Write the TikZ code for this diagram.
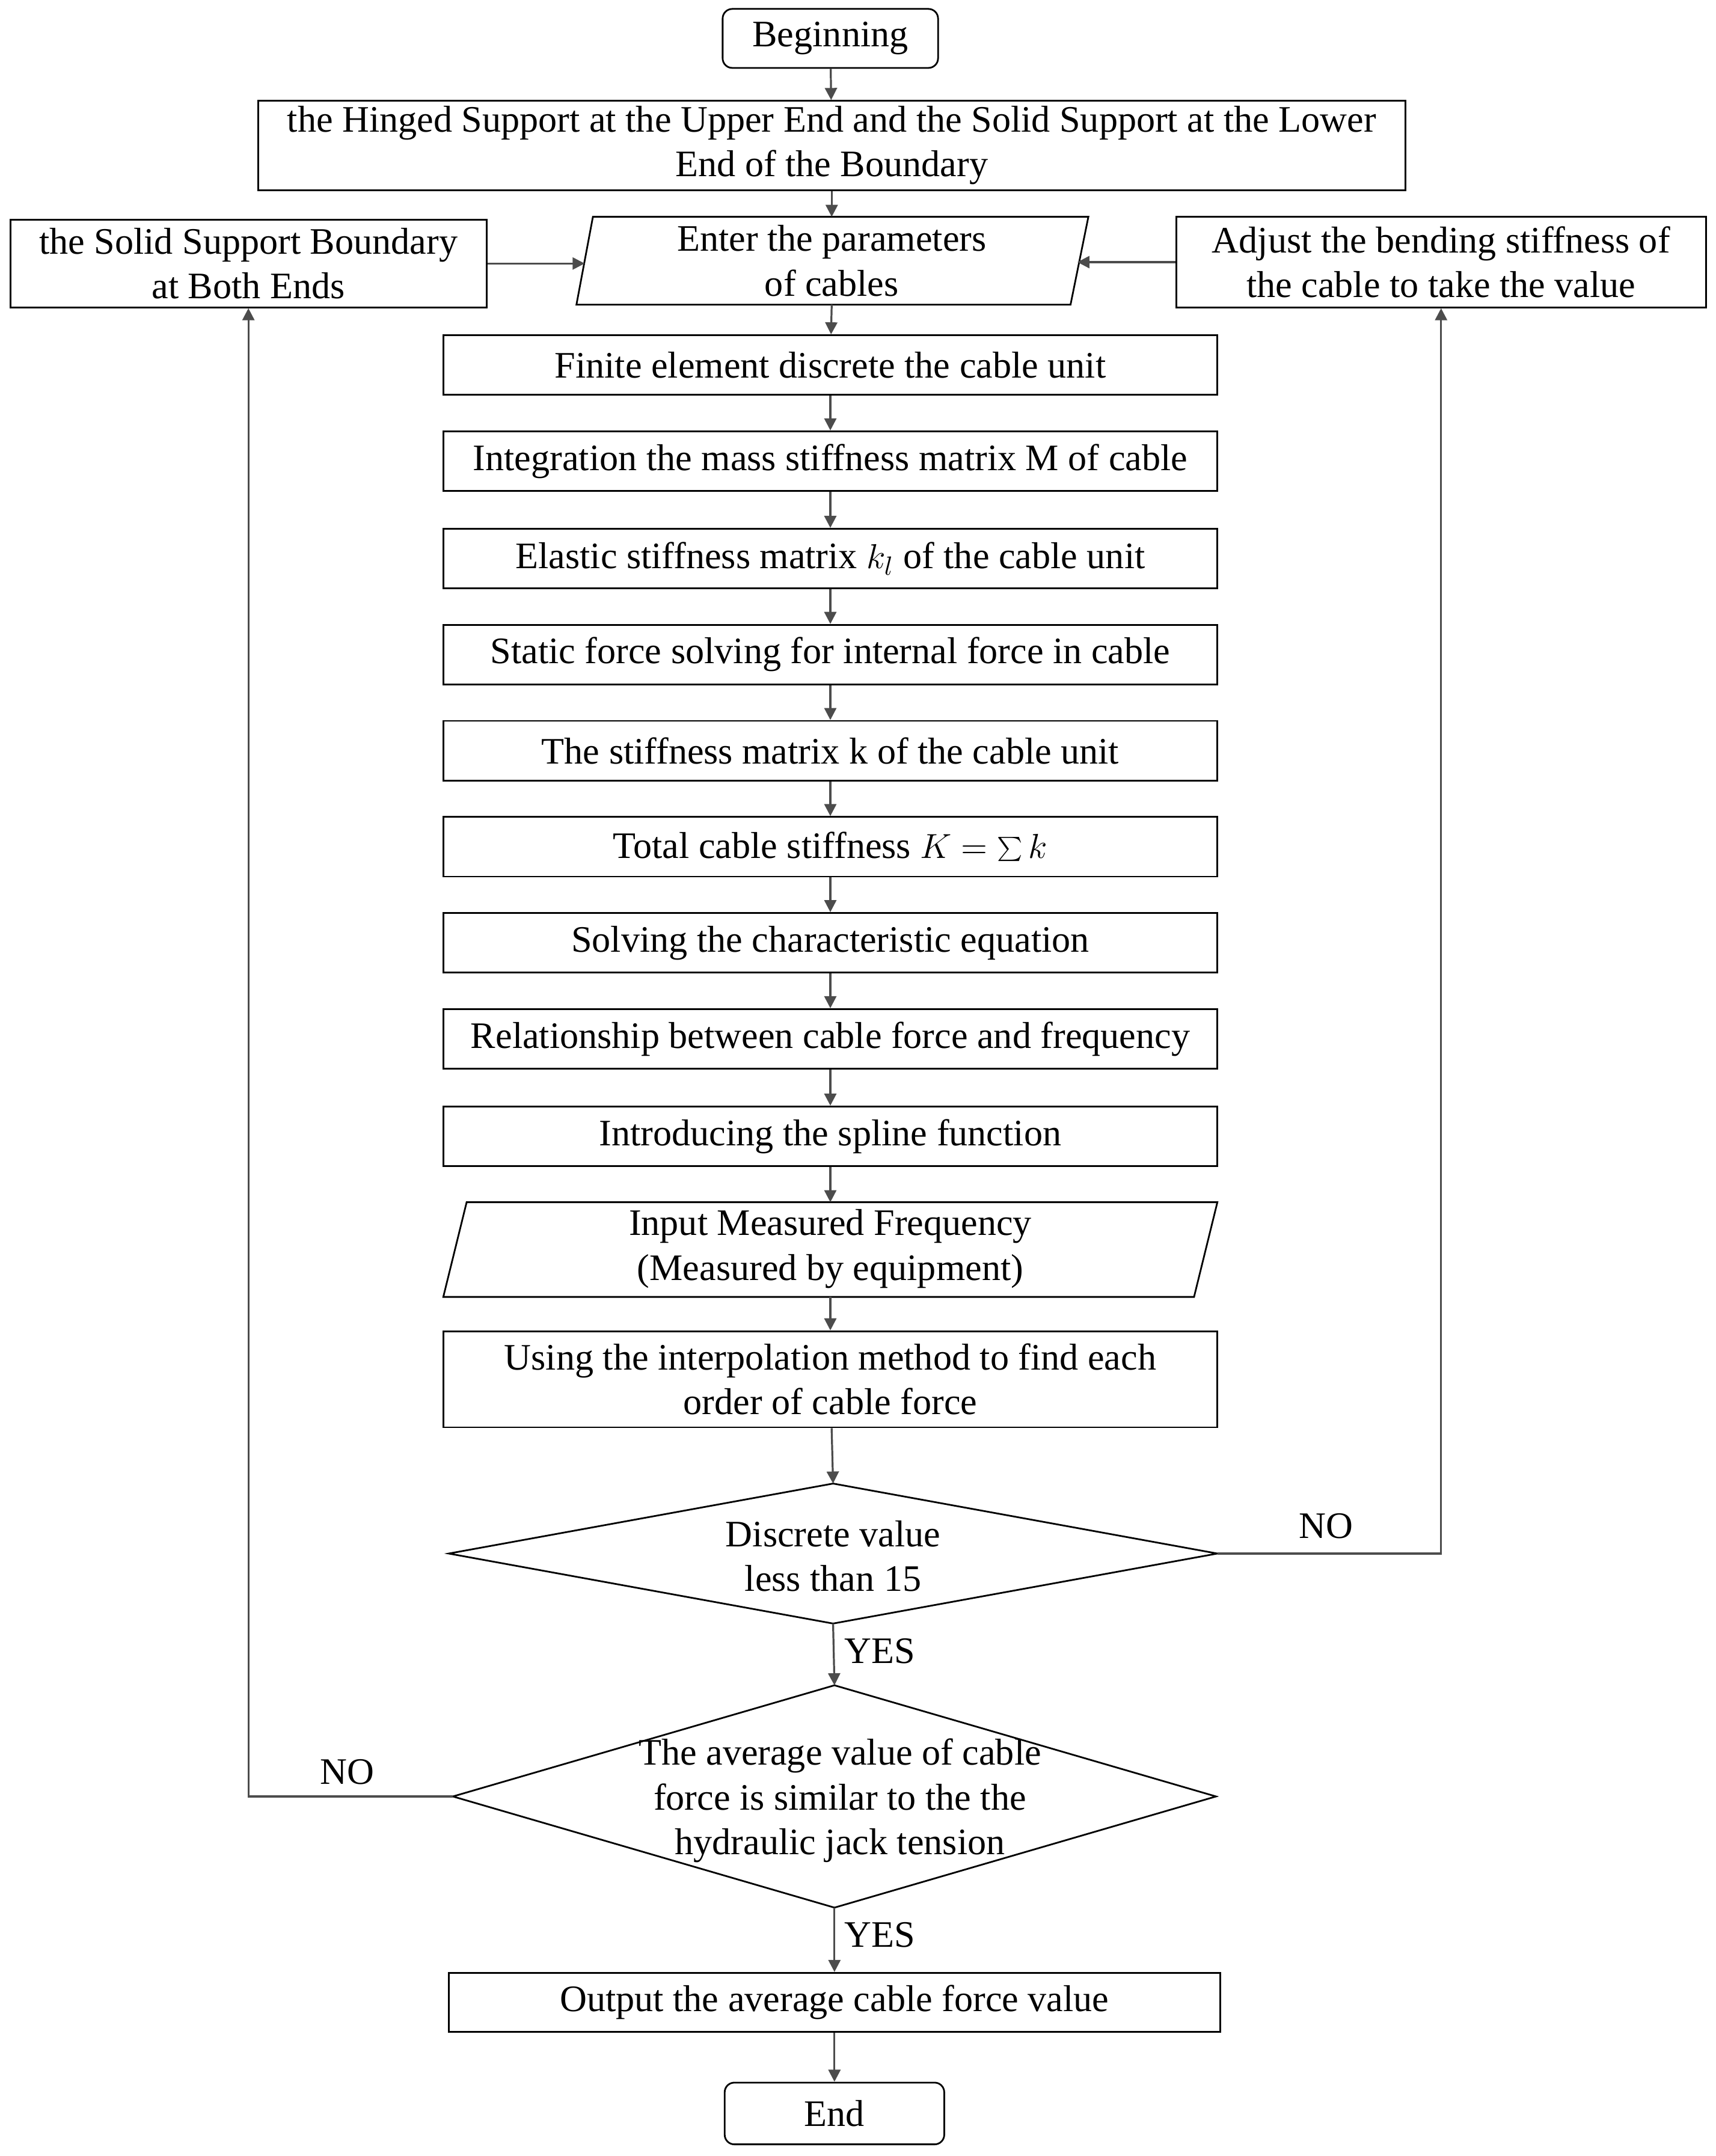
\documentclass[tikz,border=0pt]{standalone}
\usepackage{fontspec}
\setmainfont{Liberation Serif}
\usetikzlibrary{arrows.meta}
\begin{document}
\begin{tikzpicture}[x=0.02cm,y=-0.02cm,
  every node/.style={font=\fontsize{15.5}{18.5}\selectfont, align=center, inner sep=0pt},
  box/.style={draw, line width=0.7pt, minimum width=11.28cm, minimum height=0.87cm},
  arr/.style={draw=gray!60!black, line width=0.8pt, -{Triangle[length=5pt,width=5pt]}}]
\useasboundingbox (0,0) rectangle (1250,1571);
\node[draw, line width=0.7pt, rounded corners=4pt, minimum width=3.14cm, minimum height=0.86cm] (beg) at (605,28) {Beginning};
\node[draw, line width=0.7pt, minimum width=16.72cm, minimum height=1.3cm] (hinge) at (606,106) {the Hinged Support at the Upper End and the Solid Support at the Lower\\End of the Boundary};
\node[draw, line width=0.7pt, minimum width=6.94cm, minimum height=1.28cm] (left) at (181,192) {the Solid Support Boundary\\at Both Ends};
\node[draw, line width=0.7pt, minimum width=7.72cm, minimum height=1.32cm] (right) at (1050,191) {Adjust the bending stiffness of\\the cable to take the value};
\node[minimum width=7.2cm, minimum height=1.28cm] (enter) at (606,190) {Enter the parameters\\of cables};
\draw[line width=0.7pt] (432,158) -- (793,158) -- (780,222) -- (420,222) -- cycle;
\node[box] (b1) at (605,266) {Finite element discrete the cable unit};
\node[box] (b2) at (605,336) {Integration the mass stiffness matrix M of cable};
\node[box] (b3) at (605,407) {Elastic stiffness matrix $k_l$ of the cable unit};
\node[box] (b4) at (605,477) {Static force solving for internal force in cable};
\node[box] (b5) at (605,547) {The stiffness matrix k of the cable unit};
\node[box] (b6) at (605,617) {Total cable stiffness $K=\sum k$};
\node[box] (b7) at (605,687) {Solving the characteristic equation};
\node[box] (b8) at (605,757) {Relationship between cable force and frequency};
\node[box] (b9) at (605,828) {Introducing the spline function};
\node[minimum width=11.28cm, minimum height=1.38cm] (inp) at (605,910) {Input Measured Frequency\\(Measured by equipment)};
\draw[line width=0.7pt] (340,876) -- (887,876) -- (870,945) -- (323,945) -- cycle;
\node[box, minimum height=1.4cm] (use) at (605,1005) {Using the interpolation method to find each\\order of cable force};
\node (d1) at (607,1134) {Discrete value\\less than 15};
\draw[line width=0.7pt] (607,1081) coordinate (d1t) -- (887,1132) coordinate (d1r) -- (607,1183) coordinate (d1b) -- (327,1132) -- cycle;
\node (d2) at (612,1312) {The average value of cable\\force is similar to the the\\hydraulic jack tension};
\draw[line width=0.7pt] (608,1228) coordinate (d2t) -- (886,1309) -- (608,1390) coordinate (d2b) -- (330,1309) coordinate (d2l) -- cycle;
\node[draw, line width=0.7pt, minimum width=11.24cm, minimum height=0.86cm] (out) at (608,1459) {Output the average cable force value};
\node[draw, line width=0.7pt, rounded corners=4pt, minimum width=3.2cm, minimum height=0.9cm] (end) at (608,1540) {End};
\draw[arr] (beg) -- (hinge);
\draw[arr] (hinge) -- (606,158);
\draw[arr] (left.east) -- (426,192);
\draw[arr] (right.west) -- (785,191);
\draw[arr] (606,222) -- (b1);
\draw[arr] (b1) -- (b2);
\draw[arr] (b2) -- (b3);
\draw[arr] (b3) -- (b4);
\draw[arr] (b4) -- (b5);
\draw[arr] (b5) -- (b6);
\draw[arr] (b6) -- (b7);
\draw[arr] (b7) -- (b8);
\draw[arr] (b8) -- (b9);
\draw[arr] (b9) -- (605,876);
\draw[arr] (605,945) -- (use);
\draw[arr] (use) -- (d1t);
\draw[arr] (d1b) -- (d2t);
\draw[arr] (d2b) -- (out);
\draw[arr] (out) -- (end);
\draw[arr] (d1r) -| (right.south);
\draw[arr] (d2l) -| (left.south);
\node at (966,1112) {NO};
\node at (253,1291) {NO};
\node at (641,1203) {YES};
\node at (641,1410) {YES};
\end{tikzpicture}
\end{document}
